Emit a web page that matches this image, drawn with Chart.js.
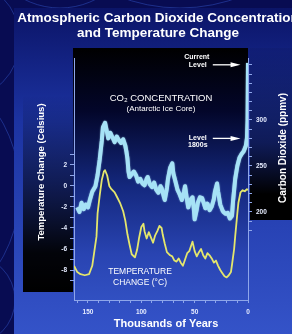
<!DOCTYPE html>
<html>
<head>
<meta charset="utf-8">
<script src="https://cdn.jsdelivr.net/npm/chart.js"></script>
<style>
  html, body { margin: 0; padding: 0; background: #080c52; overflow: hidden; }
  canvas { display: block; }
</style>
</head>
<body>
<canvas id="co2-chart" width="292" height="334"></canvas>
<script>
// Vostok ice core record, x = thousands of years before present
var co2Years = [160, 158, 156, 154, 152, 150, 148, 146, 143, 141, 139, 137, 136, 134, 132, 131, 129, 127, 125, 123,
  121, 119, 117, 115, 114, 113, 112, 111, 109, 107, 105, 103, 101, 99, 97, 95, 94, 92, 90, 88,
  86, 84, 82, 81, 79, 78, 76, 75, 73, 71, 70, 68, 66, 64, 62, 60, 59, 57, 56, 54,
  52, 51, 50, 48, 47, 45, 43, 41, 40, 38, 36, 34, 32, 31, 29, 28, 26, 24, 23, 21,
  19, 17, 15, 14, 12, 10, 8, 6, 4, 2, 1, 0.4, 0];
var co2Values = [205, 200, 210, 203, 208, 205, 214, 222, 228, 240, 257, 278, 292, 297, 286, 280, 286, 281, 276, 282,
  278, 275, 279, 272, 266, 258, 244, 238, 241, 244, 240, 233, 236, 231, 229, 236, 238, 230, 227, 232,
  224, 221, 228, 226, 217, 213, 226, 236, 248, 253, 242, 233, 224, 219, 213, 222, 228, 212, 205, 213,
  216, 206, 192, 203, 210, 216, 215, 208, 204, 209, 202, 206, 214, 222, 231, 222, 208, 202, 200, 198,
  199, 193, 196, 212, 236, 250, 259, 263, 266, 272, 280, 300, 362];

var tempYears = [163, 160, 157, 153, 149, 146, 144, 142, 141, 139, 137, 135, 134, 132, 130, 128, 125, 123, 120, 117,
  115, 113, 111, 109, 106, 104, 102, 100, 98, 97, 95, 93, 91, 89, 87, 85, 83, 81, 80, 78,
  76, 73, 71, 69, 67, 65, 63, 61, 59, 57, 55, 53, 52, 50, 48, 46, 44, 42, 40, 38,
  36, 34, 32, 30, 28, 26, 24, 22, 20, 18, 16, 15, 13, 12, 10, 9, 7, 5, 3, 1, 0];
var tempValues = [-7.6, -8.2, -8.4, -8.5, -8.4, -7.6, -6.2, -4.8, -2.6, -0.9, 0.6, 1.4, 1.5, 1.0, 0.0, -0.3, -0.6, -1.0, -1.6, -2.4,
  -3.3, -4.6, -5.6, -6.5, -6.8, -6.1, -4.9, -3.9, -3.6, -4.3, -5.0, -4.4, -4.9, -5.4, -4.7, -4.3, -3.8, -4.0, -4.6, -5.5,
  -6.3, -6.6, -6.7, -7.1, -7.2, -6.9, -7.3, -7.6, -7.0, -6.4, -6.2, -5.6, -5.3, -6.2, -6.7, -6.3, -6.0, -6.6, -6.9, -6.4,
  -6.6, -6.9, -7.3, -7.1, -7.6, -8.0, -8.3, -8.6, -8.7, -8.5, -8.2, -7.5, -6.0, -4.8, -2.6, -1.6, -0.6, -0.4, -0.5, -0.3, -0.4];

var tempTickLabels = [2, 0, -2, -4, -6, -8];
var co2TickLabels = [200, 250, 300];
var yearTickLabels = [150, 100, 50, 0];
var currentLevel = 360;
var level1800s = 280;

var FONT = "'Liberation Sans', Arial, sans-serif";

function pairs(xs, ys) {
  return xs.map(function(x, i) { return {x: x, y: ys[i]}; });
}
function steps(from, to, step) {
  var out = [];
  for (var v = from; v <= to; v += step) out.push({value: v});
  return out;
}

function arrow(ctx, x1, x2, y) {
  ctx.strokeStyle = '#ffffff';
  ctx.lineWidth = 1.3;
  ctx.beginPath();
  ctx.moveTo(x1, y);
  ctx.lineTo(x2 - 6, y);
  ctx.stroke();
  ctx.fillStyle = '#ffffff';
  ctx.beginPath();
  ctx.moveTo(x2 - 10, y - 2.5);
  ctx.lineTo(x2, y);
  ctx.lineTo(x2 - 10, y + 2.5);
  ctx.closePath();
  ctx.fill();
}

var backdrop = {
  id: 'backdrop',
  beforeDraw: function(chart) {
    var ctx = chart.ctx, a = chart.chartArea, W = chart.width, H = chart.height;
    ctx.save();
    ctx.fillStyle = '#080c52';
    ctx.fillRect(0, 0, W, H);

    // template swirls in the margin
    ctx.strokeStyle = 'rgba(60,100,225,0.5)';
    ctx.lineWidth = 0.8;
    [[-40, 40, 60], [-120, 190, 140], [-30, 300, 45], [60, -70, 78], [180, -160, 168]].forEach(function(c) {
      ctx.beginPath();
      ctx.arc(c[0], c[1], c[2], 0, Math.PI * 2);
      ctx.stroke();
    });

    // main panel
    var g = ctx.createLinearGradient(0, 8, 0, H);
    g.addColorStop(0, '#0b1467');
    g.addColorStop(0.35, '#1c33a2');
    g.addColorStop(1, '#3453c8');
    ctx.fillStyle = g;
    ctx.fillRect(14, 8, W - 14, H - 8);

    // left axis strip
    var gl = ctx.createLinearGradient(0, 95, 0, 292);
    gl.addColorStop(0, 'rgba(0,0,0,0)');
    gl.addColorStop(0.45, 'rgba(0,0,10,0.55)');
    gl.addColorStop(0.8, 'rgba(0,0,0,0.95)');
    gl.addColorStop(1, '#000000');
    ctx.fillStyle = gl;
    ctx.fillRect(23, 95, a.left - 1 - 23, 197);

    // right axis strip
    var gr = ctx.createLinearGradient(0, a.top - 10, 0, 220);
    gr.addColorStop(0, 'rgba(0,0,0,0.05)');
    gr.addColorStop(0.55, 'rgba(0,0,10,0.5)');
    gr.addColorStop(0.85, '#000000');
    gr.addColorStop(1, '#000000');
    ctx.fillStyle = gr;
    ctx.fillRect(a.right + 2, a.top - 10, W - a.right - 2, 220 - a.top + 10);

    // plot box
    var gp = ctx.createLinearGradient(0, a.top - 10, 0, a.bottom);
    gp.addColorStop(0, '#000000');
    gp.addColorStop(0.25, '#03062a');
    gp.addColorStop(0.55, '#14287e');
    gp.addColorStop(0.82, '#2944b2');
    gp.addColorStop(1, '#3150c2');
    ctx.fillStyle = gp;
    ctx.fillRect(a.left - 1, a.top - 10, a.right - a.left + 1, a.bottom - a.top + 10);
    ctx.restore();
  },
  beforeDatasetDraw: function(chart, args) {
    if (args.index === 0) {
      chart.ctx.save();
      chart.ctx.shadowColor = 'rgba(180,235,255,0.8)';
      chart.ctx.shadowBlur = 1.5;
    }
  },
  afterDatasetDraw: function(chart, args) {
    if (args.index === 0) chart.ctx.restore();
  },
  afterDraw: function(chart) {
    var ctx = chart.ctx, a = chart.chartArea;
    var xs = chart.scales.x, y2 = chart.scales.y2;
    ctx.save();
    ctx.fillStyle = '#ffffff';
    ctx.textAlign = 'center';
    ctx.textBaseline = 'middle';

    // chart title
    ctx.font = 'bold 13.5px ' + FONT;
    ctx.fillText('Atmospheric Carbon Dioxide Concentration', 158, 18);
    ctx.fillText('and Temperature Change', 158, 33);

    // axis titles
    ctx.font = 'bold 11px ' + FONT;
    ctx.fillText('Thousands of Years', 166, 324);
    ctx.save();
    ctx.translate(41, 172);
    ctx.rotate(-Math.PI / 2);
    ctx.font = 'bold 9.5px ' + FONT;
    ctx.fillText('Temperature Change (Celsius)', 0, 0);
    ctx.restore();
    ctx.save();
    ctx.translate(283, 148);
    ctx.rotate(-Math.PI / 2);
    ctx.font = 'bold 10px ' + FONT;
    ctx.fillText('Carbon Dioxide (ppmv)', 0, 0);
    ctx.restore();

    // series labels
    ctx.font = '9.5px ' + FONT;
    ctx.fillText('CO\u2082 CONCENTRATION', 161, 98);
    ctx.font = '8px ' + FONT;
    ctx.fillText('(Antarctic Ice Core)', 161, 109);
    ctx.font = '8.5px ' + FONT;
    ctx.fillText('TEMPERATURE', 140, 272);
    ctx.fillText('CHANGE (\u00b0C)', 140, 283);

    // level markers
    var x1 = xs.getPixelForValue(33), x2 = xs.getPixelForValue(7);
    var yc = y2.getPixelForValue(currentLevel), yl = y2.getPixelForValue(level1800s);
    ctx.font = 'bold 7px ' + FONT;
    ctx.fillText('Current', x1 - 16, yc - 8);
    ctx.fillText('Level', x1 - 15, yc);
    ctx.fillText('Level', x1 - 15, yl);
    ctx.fillText('1800s', x1 - 15, yl + 7);
    arrow(ctx, x1, x2, yc);
    arrow(ctx, x1, x2, yl);
    ctx.restore();
  }
};

var tickFont = {family: FONT, size: 6.5, weight: 'bold'};
var axisLine = '#8ea6ea';

var options = {
  responsive: false,
  animation: false,
  layout: { padding: {top: 58, left: 0, right: 0, bottom: 0} },
  plugins: { legend: {display: false}, tooltip: {enabled: false} },
  elements: { point: {radius: 0}, line: {tension: 0, borderJoinStyle: 'round'} },
  scales: {
    x: {
      type: 'linear', reverse: true, min: 0, max: 163.1,
      afterBuildTicks: function(s) { s.ticks = steps(0, 160, 10); },
      afterFit: function(s) { s.height = 34; },
      border: {color: axisLine, width: 1},
      grid: {drawOnChartArea: false, tickLength: 3, color: axisLine},
      ticks: {
        autoSkip: false, maxRotation: 0, padding: 5, color: '#e6ecff', font: tickFont,
        callback: function(v) { return yearTickLabels.indexOf(v) >= 0 ? String(v) : ''; }
      }
    },
    y: {
      position: 'left', min: -10.857, max: 12.19,
      afterBuildTicks: function(s) { s.ticks = steps(-9, 3, 1); },
      afterFit: function(s) { s.width = 74; },
      border: {color: axisLine, width: 1},
      grid: {drawOnChartArea: false, tickLength: 4, color: axisLine},
      ticks: {
        autoSkip: false, padding: 3, color: '#e6ecff', font: tickFont,
        callback: function(v) { return tempTickLabels.indexOf(v) >= 0 ? String(v) : ''; }
      }
    },
    y2: {
      position: 'right', min: 104.3, max: 367.4,
      afterBuildTicks: function(s) { s.ticks = steps(180, 360, 10); },
      afterFit: function(s) { s.width = 44; },
      border: {color: axisLine, width: 1},
      grid: {drawOnChartArea: false, tickLength: 4, color: axisLine},
      ticks: {
        autoSkip: false, padding: 4, color: '#e6ecff', font: tickFont,
        callback: function(v) { return co2TickLabels.indexOf(v) >= 0 ? String(v) : ''; }
      }
    }
  }
};

var chart = new Chart(document.getElementById('co2-chart'), {
  type: 'line',
  data: {
    datasets: [{
      label: 'CO2 concentration',
      data: pairs(co2Years, co2Values),
      yAxisID: 'y2',
      borderColor: '#a6e2f6',
      borderWidth: 4,
      fill: false
    }, {
      label: 'Temperature change',
      data: pairs(tempYears, tempValues),
      yAxisID: 'y',
      borderColor: '#e4e66c',
      borderWidth: 1.8,
      fill: false
    }]
  },
  options: options,
  plugins: [backdrop]
});
</script>
</body>
</html>
